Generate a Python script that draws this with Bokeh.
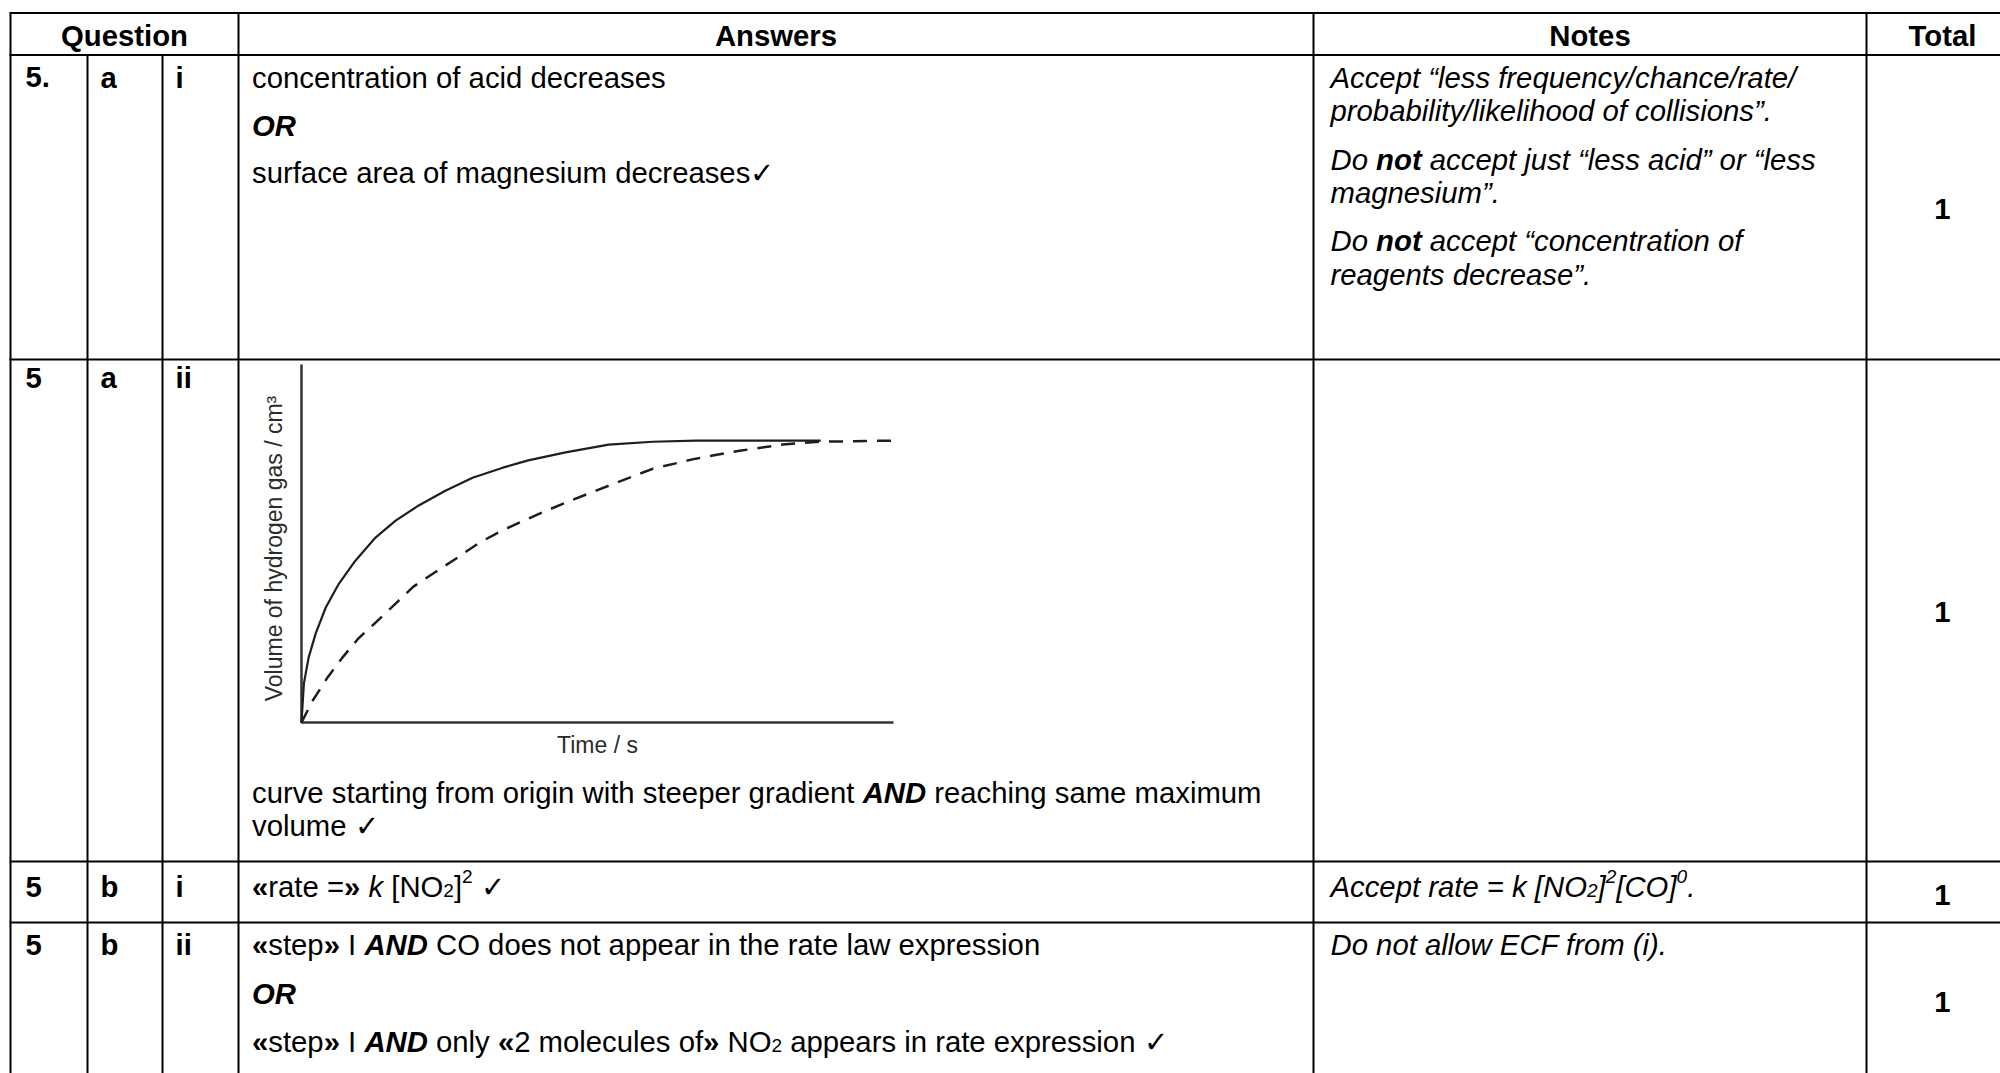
from math import pi
from collections import defaultdict

from bokeh.plotting import figure
from bokeh.models import Range1d, ColumnDataSource
from bokeh.core.properties import value
from bokeh.embed import file_html
from bokeh.resources import INLINE

# ---------------- chart data ----------------
T_MAX = 100.0          # time axis length (arbitrary units, no ticks shown)
V_MAX = 63.5           # volume axis length (arbitrary units)
time_solid = [0, 0.4, 1.2, 2.4, 4.1, 6.3, 9.1, 12.5, 15.9, 19.8, 24.3, 28.9,
              34.0, 38.3, 44.6, 51.9, 59.3, 66.6, 87.7]
vol_solid = [0, 6.9, 11.5, 15.8, 20.4, 24.6, 28.7, 32.8, 35.8, 38.5, 41.1, 43.4,
             45.2, 46.5, 47.9, 49.3, 49.8, 50.0, 50.0]
time_dashed = [0, 1.9, 4.4, 6.9, 9.6, 12.5, 15.9, 18.9, 22.5, 26.0, 29.9, 33.6,
               37.3, 41.2, 44.6, 51.9, 59.3, 66.6, 74.0, 81.3, 87.5, 100]
vol_dashed = [0, 3.9, 8.0, 11.5, 14.9, 17.7, 21.1, 24.1, 26.6, 29.0, 31.8, 33.9,
              35.7, 37.5, 39.0, 42.0, 45.0, 46.8, 48.2, 49.3, 49.8, 50.0]
chart_y_label = "Volume of hydrogen gas / cm³"
chart_x_label = "Time / s"

# ---------------- table text ----------------
headers = ["Question", "Answers", "Notes", "Total"]
q_numbers = ["5.", "5", "5", "5"]
q_parts = ["a", "a", "b", "b"]
q_subparts = ["i", "ii", "i", "ii"]
totals = ["1", "1", "1", "1"]

answers = [
    [[("concentration of acid decreases", "n")],
     [("OR", "bi")],
     [("surface area of magnesium decreases✓", "n")]],
    [[("curve starting from origin with steeper gradient ", "n"), ("AND", "bi"),
      (" reaching same maximum", "n")],
     [("volume ✓", "n")]],
    [[("«", "b"), ("rate =", "n"), ("»", "b"), (" ", "n"), ("k", "i"), (" [NO", "n"),
      ("2", "sub"), ("]", "n"), ("2", "sup"), (" ✓", "n")]],
    [[("«", "b"), ("step", "n"), ("»", "b"), (" I ", "n"), ("AND", "bi"),
      (" CO does not appear in the rate law expression", "n")],
     [("OR", "bi")],
     [("«", "b"), ("step", "n"), ("»", "b"), (" I ", "n"), ("AND", "bi"), (" only ", "n"),
      ("«", "b"), ("2 molecules of", "n"), ("»", "b"), (" NO", "n"), ("2", "sub"),
      (" appears in rate expression ✓", "n")]],
]
notes = [
    [[("Accept “less frequency/chance/rate/", "i")],
     [("probability/likelihood of collisions”.", "i")],
     [("Do ", "i"), ("not", "bi"), (" accept just “less acid” or “less", "i")],
     [("magnesium”.", "i")],
     [("Do ", "i"), ("not", "bi"), (" accept “concentration of", "i")],
     [("reagents decrease”.", "i")]],
    [],
    [[("Accept rate = k [NO", "i"), ("2", "isub"), ("]", "i"), ("2", "isup"),
      ("[CO]", "i"), ("0", "isup"), (".", "i")]],
    [[("Do not allow ECF from (i).", "i")]],
]

# ---------------- layout (page pixels) ----------------
W, H = 2000, 1073
X0, Y0 = 0, 0
FONT = "Liberation Sans"
FS = 29.3
TEXT_DY = -9.0          # correction for where the renderer puts the baseline
col_x = [10, 87, 162, 238, 1313, 1866]
row_y = [12.5, 54.5, 359, 861, 922]
table_bottom = 1090
label_x = [25, 100, 175]
ans_x, note_x, total_cx = 251.5, 1330, 1942
header_cx = [124, 775.5, 1589.5, 1942]
header_base = 44
answer_bases = [[85.5, 134, 181], [800.5, 834], [895], [953, 1002, 1050]]
note_bases = [[85.5, 119, 167.5, 201, 249, 282.5], [], [895], [953]]
label_bases = [85.5, 386, 895, 953]
total_bases = [217, 620, 903, 1010]
CHART = dict(left=301, right=893, bottom=722, top=364)
Y_LABEL_PX = (273, 548)   # centre of the rotated axis title
X_LABEL_BASE = 753

# Helvetica / Arial advance widths (per 1000 em)
def _tab(groups):
    d = {}
    for chars, w in groups:
        for c in chars:
            d[c] = w
    return d

W_REG = _tab([(" !,./:;[]\\fIt", 278), ("ijl", 222), ("()-r“”`", 333),
              ("cksvxyzJ", 500), ("abdeghnopqu0123456789«»?", 556), ("=+<>", 584),
              ("FTZ", 611), ("ABEKPSVXY", 667), ("CDHNRUw", 722), ("GOQ", 778),
              ("mM", 833), ("W", 944), ("L", 556), ("✓", 838)])
W_BOLD = _tab([(" ,./Iijl", 278), ("()-ft:;![]“”", 333), ("r", 389), ("z", 500),
               ("0123456789acekvsxyJ«»", 556), ("=", 584), ("bdghnopquFTZL", 611),
               ("EPSVXY", 667), ("ABCDHKNRU", 722), ("GOQw", 778), ("M", 833),
               ("m", 889), ("W", 944), ("✓", 838)])

STYLES = {
    "n": ("normal", 1.0, 0.0, False),
    "i": ("italic", 1.0, 0.0, False),
    "b": ("bold", 1.0, 0.0, True),
    "bi": ("bold italic", 1.0, 0.0, True),
    "sub": ("normal", 0.65, 0.14, False),
    "sup": ("normal", 0.65, -0.33, False),
    "isub": ("italic", 0.65, 0.14, False),
    "isup": ("italic", 0.65, -0.33, False),
}


def text_width(s, bold, size):
    tab = W_BOLD if bold else W_REG
    return sum(tab.get(c, 556) for c in s) / 1000.0 * size


groups = defaultdict(lambda: {"x": [], "y": [], "text": []})


def put(key, x, y, s):
    g = groups[key]
    g["x"].append(x)
    g["y"].append(y + TEXT_DY)
    g["text"].append(s)


def layout_line(x, y, runs):
    for s, st in runs:
        fstyle, scale, dy, bold = STYLES[st]
        size = FS * scale
        lead = len(s) - len(s.lstrip(" "))
        x += text_width(" " * lead, bold, size)
        core = s.strip(" ")
        if core:
            put((fstyle, size, "left"), x, y + dy * FS, core)
        x += text_width(s.lstrip(" "), bold, size)


# ---------------- figure ----------------
p = figure(width=W, height=H, output_backend="svg", toolbar_location=None,
           x_range=Range1d(X0, X0 + W), y_range=Range1d(Y0 + H, Y0),
           min_border=0, x_axis_location=None, y_axis_location=None, title=None)
p.outline_line_color = None
p.grid.visible = False
p.background_fill_color = "white"
p.border_fill_color = "white"

# chart scales mapped onto the inset area
sx = (CHART["right"] - CHART["left"]) / T_MAX
sy = (CHART["bottom"] - CHART["top"]) / V_MAX
p.extra_x_ranges = {"chart": Range1d((X0 - CHART["left"]) / sx, (X0 + W - CHART["left"]) / sx)}
p.extra_y_ranges = {"chart": Range1d((CHART["bottom"] - (Y0 + H)) / sy, (CHART["bottom"] - Y0) / sy)}

# table grid
hx0, hx1, hy = [], [], []
for y in row_y:
    hx0.append(col_x[0] - 1)
    hx1.append(2020)
    hy.append(y)
p.segment(x0=hx0, y0=hy, x1=hx1, y1=hy, line_color="black", line_width=2)
vtops = [row_y[0], row_y[1], row_y[1], row_y[0], row_y[0], row_y[0]]
p.segment(x0=col_x, y0=vtops, x1=col_x, y1=[table_bottom] * len(col_x),
          line_color="black", line_width=2)

# header
for s, cx in zip(headers, header_cx):
    put(("bold", FS, "center"), cx, header_base, s)

for r in range(4):
    put(("bold", FS, "left"), label_x[0], label_bases[r], q_numbers[r])
    put(("bold", FS, "left"), label_x[1], label_bases[r], q_parts[r])
    put(("bold", FS, "left"), label_x[2], label_bases[r], q_subparts[r])
    put(("bold", FS, "center"), total_cx, total_bases[r], totals[r])
    for line, base in zip(answers[r], answer_bases[r]):
        layout_line(ans_x, base, line)
    for line, base in zip(notes[r], note_bases[r]):
        layout_line(note_x, base, line)

for (fstyle, size, align), g in groups.items():
    p.text(x="x", y="y", text="text", source=ColumnDataSource(g),
           text_font=value(FONT), text_font_size=f"{size:.2f}px",
           text_font_style=fstyle, text_align=align, text_baseline="alphabetic",
           text_color="black")

# inset chart: axes, curves and labels
p.line(x=[0, 0, T_MAX], y=[V_MAX, 0, 0], x_range_name="chart", y_range_name="chart",
       line_color="#333333", line_width=2.5)
p.line(x=time_solid, y=vol_solid, x_range_name="chart", y_range_name="chart",
       line_color="#1e1e1e", line_width=2.2)
p.line(x=time_dashed, y=vol_dashed, x_range_name="chart", y_range_name="chart",
       line_color="#1e1e1e", line_width=2.5, line_dash="14 10")
p.text(x=[(Y_LABEL_PX[0] - CHART["left"]) / sx], y=[(CHART["bottom"] - Y_LABEL_PX[1]) / sy],
       text=[chart_y_label], angle=pi / 2, x_range_name="chart", y_range_name="chart",
       text_font=value(FONT), text_font_size="23px", text_align="center",
       text_baseline="middle", text_color="#2b2b2b")
p.text(x=[T_MAX / 2], y=[(CHART["bottom"] - (X_LABEL_BASE + TEXT_DY)) / sy], text=[chart_x_label],
       x_range_name="chart", y_range_name="chart",
       text_font=value(FONT), text_font_size="23px", text_align="center",
       text_baseline="alphabetic", text_color="#2b2b2b")

with open("out.html", "w", encoding="utf-8") as f:
    f.write(file_html(p, INLINE))
